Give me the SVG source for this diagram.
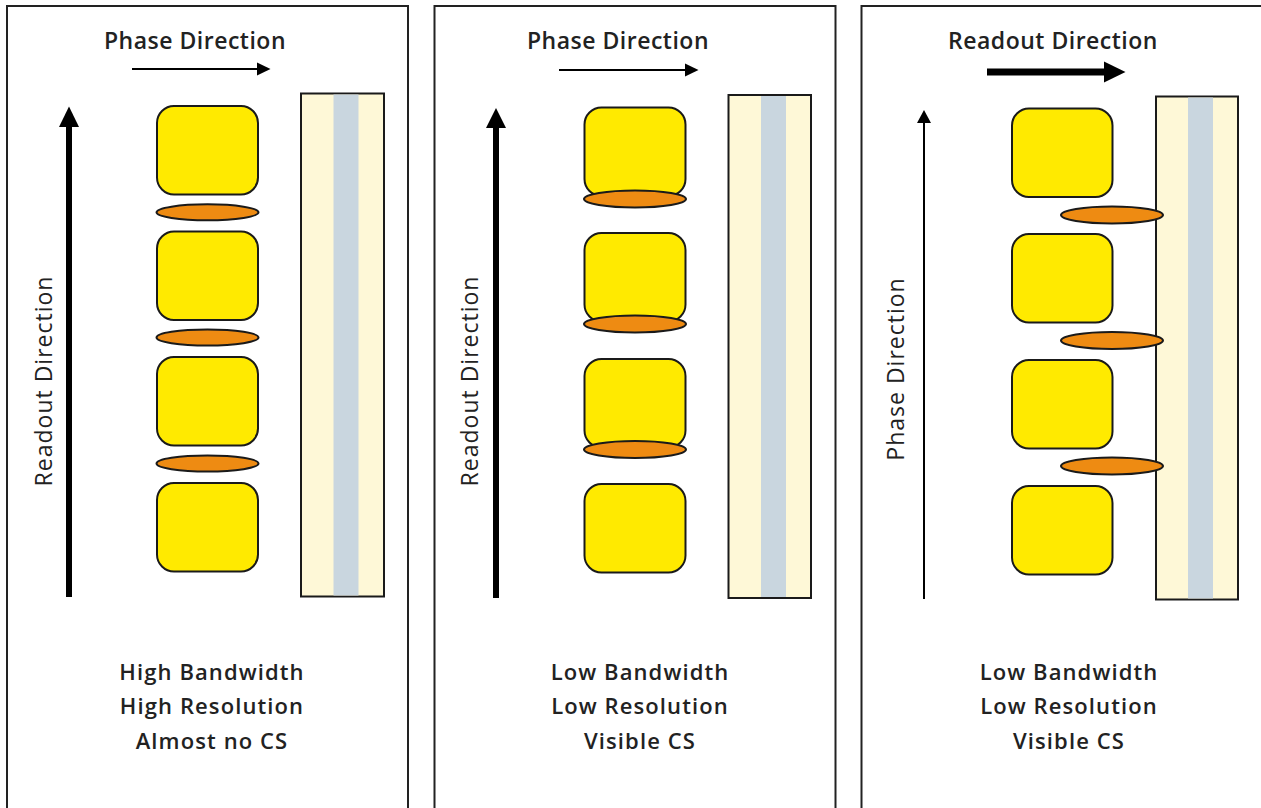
<svg xmlns="http://www.w3.org/2000/svg" width="1261" height="808" viewBox="0 0 1261 808">
  <style>
    .panel { fill: #ffffff; stroke: #222222; stroke-width: 2; }
    .cell { fill: #FFEA00; stroke: #1a1a1a; stroke-width: 2; }
    .blur { fill: #EE8B12; stroke: #1a1a1a; stroke-width: 2; }
    .bar { fill: #FEF8D7; stroke: #1a1a1a; stroke-width: 2; }
    .strip { fill: #C9D6DF; }
    .title { font-family: "Open Sans", "Liberation Sans", sans-serif; font-weight: 600; font-size: 23px; letter-spacing: 0.5px; fill: #222222; text-anchor: middle; }
    .axis { font-family: "Open Sans", "Liberation Sans", sans-serif; font-weight: 400; font-size: 23px; letter-spacing: 1px; fill: #222222; text-anchor: middle; }
    .note { font-family: "Open Sans", "Liberation Sans", sans-serif; font-weight: 600; font-size: 22px; letter-spacing: 1.1px; fill: #222222; text-anchor: middle; }
    .shaft { stroke: #000000; fill: none; }
    .head { fill: #000000; }
  </style>

  <!-- panel frames -->
  <g id="frames">
    <rect id="frame-1" class="panel" x="7" y="6" width="401" height="806"/>
    <rect id="frame-2" class="panel" x="434.5" y="6" width="401" height="806"/>
    <rect id="frame-3" class="panel" x="861.5" y="6" width="402" height="806"/>
  </g>

  <!-- panel 1: high bandwidth -->
  <g id="panel-1">
    <text class="title" x="195" y="49">Phase Direction</text>
    <text class="axis" transform="translate(52 381) rotate(-90)">Readout Direction</text>
    <g id="bar-1">
      <rect class="bar" x="301" y="93.5" width="83" height="503"/>
      <rect class="strip" x="333.5" y="94.5" width="25" height="501"/>
    </g>
    <g id="cells-1">
      <rect class="cell" x="157" y="106" width="101" height="88.5" rx="17"/>
      <rect class="cell" x="157" y="231.5" width="101" height="88.5" rx="17"/>
      <rect class="cell" x="157" y="357" width="101" height="88.5" rx="17"/>
      <rect class="cell" x="157" y="483" width="101" height="88.5" rx="17"/>
    </g>
    <g id="shifts-1">
      <ellipse class="blur" cx="207.5" cy="212.3" rx="51" ry="8"/>
      <ellipse class="blur" cx="207.5" cy="337.5" rx="51" ry="8"/>
      <ellipse class="blur" cx="207.5" cy="463.5" rx="51" ry="8"/>
    </g>
    <text class="note" x="212" y="680">High Bandwidth</text>
    <text class="note" x="212" y="714">High Resolution</text>
    <text class="note" x="212" y="749">Almost no CS</text>
  </g>

  <!-- panel 2: low bandwidth -->
  <g id="panel-2">
    <text class="title" x="618" y="49">Phase Direction</text>
    <text class="axis" transform="translate(478 381) rotate(-90)">Readout Direction</text>
    <g id="bar-2">
      <rect class="bar" x="728.5" y="95" width="82.5" height="503"/>
      <rect class="strip" x="761" y="96" width="25" height="501"/>
    </g>
    <g id="cells-2">
      <rect class="cell" x="584.5" y="107.5" width="101" height="88.5" rx="17"/>
      <rect class="cell" x="584.5" y="233" width="101" height="88.5" rx="17"/>
      <rect class="cell" x="584.5" y="359" width="101" height="88.5" rx="17"/>
      <rect class="cell" x="584.5" y="484" width="101" height="88.5" rx="17"/>
    </g>
    <g id="shifts-2">
      <ellipse class="blur" cx="635" cy="199" rx="51" ry="8.5"/>
      <ellipse class="blur" cx="635" cy="324" rx="51" ry="8.5"/>
      <ellipse class="blur" cx="635" cy="449.5" rx="51" ry="8.5"/>
    </g>
    <text class="note" x="640" y="680">Low Bandwidth</text>
    <text class="note" x="640" y="714">Low Resolution</text>
    <text class="note" x="640" y="749">Visible CS</text>
  </g>

  <!-- panel 3: swapped directions -->
  <g id="panel-3">
    <text class="title" x="1053" y="49">Readout Direction</text>
    <text class="axis" transform="translate(904 369) rotate(-90)">Phase Direction</text>
    <g id="bar-3">
      <rect class="bar" x="1156" y="96.5" width="82" height="503"/>
      <rect class="strip" x="1188" y="97.5" width="25" height="501"/>
    </g>
    <g id="cells-3">
      <rect class="cell" x="1012" y="108.5" width="100.5" height="88.5" rx="17"/>
      <rect class="cell" x="1012" y="234" width="100.5" height="88.5" rx="17"/>
      <rect class="cell" x="1012" y="360" width="100.5" height="88.5" rx="17"/>
      <rect class="cell" x="1012" y="486" width="100.5" height="88.5" rx="17"/>
    </g>
    <g id="shifts-3">
      <ellipse class="blur" cx="1112" cy="215" rx="51" ry="8.5"/>
      <ellipse class="blur" cx="1112" cy="340.5" rx="51" ry="8.5"/>
      <ellipse class="blur" cx="1112" cy="466" rx="51" ry="8.5"/>
    </g>
    <text class="note" x="1069" y="680">Low Bandwidth</text>
    <text class="note" x="1069" y="714">Low Resolution</text>
    <text class="note" x="1069" y="749">Visible CS</text>
  </g>

  <!-- direction arrows -->
  <g id="connectors">
    <line class="shaft" x1="132" y1="69" x2="258" y2="69" stroke-width="2"/>
    <polygon class="head" points="257,62.5 270.5,69 257,75.5"/>
    <line class="shaft" x1="559" y1="70" x2="686" y2="70" stroke-width="2"/>
    <polygon class="head" points="685,63.5 698.5,70 685,76.5"/>
    <line class="shaft" x1="987" y1="72" x2="1106" y2="72" stroke-width="7"/>
    <polygon class="head" points="1104,61.5 1125.5,72 1104,82.5"/>

    <line class="shaft" x1="69" y1="597" x2="69" y2="125" stroke-width="6"/>
    <polygon class="head" points="59,127 69,106.5 79,127"/>
    <line class="shaft" x1="496" y1="598" x2="496" y2="126" stroke-width="6"/>
    <polygon class="head" points="486,128 496,108 506,128"/>
    <line class="shaft" x1="924" y1="599" x2="924" y2="121" stroke-width="2"/>
    <polygon class="head" points="917,123 924,110 931,123"/>
  </g>
</svg>
